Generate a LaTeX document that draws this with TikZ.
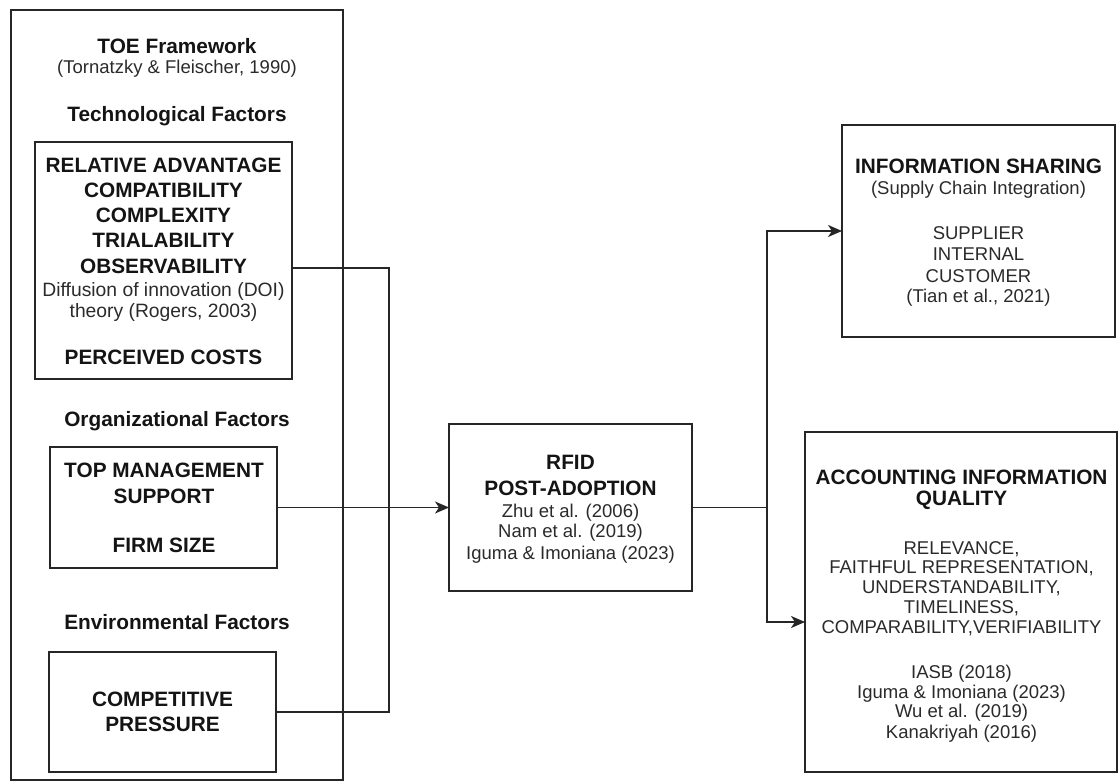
\documentclass[tikz,border=0pt]{standalone}
\usepackage{fontspec}
\setmainfont{Liberation Sans}
\usetikzlibrary{arrows.meta}
\definecolor{ink}{HTML}{141414}
\definecolor{soft}{HTML}{2A2A2A}
\definecolor{edge}{HTML}{262626}
\begin{document}
\begin{tikzpicture}[x=1pt,y=-1pt,
  box/.style={draw=edge, line width=1.7pt, rectangle, inner sep=0pt, outer sep=0pt},
  hd/.style={anchor=base, inner sep=0pt, text=ink, font=\fontsize{20.8}{25}\selectfont\bfseries},
  rg/.style={anchor=base, inner sep=0pt, text=soft, font=\fontsize{18.5}{22}\selectfont},
  rgl/.style={anchor=base, inner sep=0pt, text=soft, font=\fontsize{19.3}{23}\selectfont},
  link/.style={draw=edge, line width=1.7pt},
  arr/.style={link, -{Stealth[length=14pt,width=12pt,inset=4pt]}}]
\useasboundingbox (0,0) rectangle (1119,783);

% ---- boxes ----
\node[box, minimum width=332pt, minimum height=770pt] (toe)  at (177,395) {};
\node[box, minimum width=257pt, minimum height=237pt] (tech) at (163.5,260.5) {};
\node[box, minimum width=227pt, minimum height=121pt] (org)  at (163.5,507.5) {};
\node[box, minimum width=227pt, minimum height=120pt] (env)  at (162.5,712) {};
\node[box, minimum width=243pt, minimum height=167pt] (rfid) at (570.5,507.5) {};
\node[box, minimum width=273pt, minimum height=212pt] (info) at (978.5,231) {};
\node[box, minimum width=312pt, minimum height=340pt] (aiq)  at (961,602) {};

% ---- TOE framework column ----
\node[hd] (toe-t)  at (177,54)    {TOE Framework};
\node[rg] (toe-c)  at (177,74)    {(Tornatzky \& Fleischer, 1990)};
\node[hd] (tech-t) at (177,122)   {Technological Factors};

\node[hd] (tech-1) at (163.5,172.8) {RELATIVE ADVANTAGE};
\node[hd] (tech-2) at (163.5,197.6) {COMPATIBILITY};
\node[hd] (tech-3) at (163.5,222.6) {COMPLEXITY};
\node[hd] (tech-4) at (163.5,247.8) {TRIALABILITY};
\node[hd] (tech-5) at (163.5,273.8) {OBSERVABILITY};
\node[rgl] (tech-6) at (163.5,296.5) {Diffusion of innovation (DOI)};
\node[rgl] (tech-7) at (163.5,317.5) {theory (Rogers, 2003)};
\node[hd] (tech-8) at (163.5,365)   {PERCEIVED COSTS};

\node[hd] (org-t)  at (177,426.7)   {Organizational Factors};
\node[hd] (org-1)  at (164,477.3)   {TOP MANAGEMENT};
\node[hd] (org-2)  at (164,503.3)   {SUPPORT};
\node[hd] (org-3)  at (164,552.3)   {FIRM SIZE};

\node[hd] (env-t)  at (177,629.3)   {Environmental Factors};
\node[hd] (env-1)  at (162.5,706.3) {COMPETITIVE};
\node[hd] (env-2)  at (162.5,731.3) {PRESSURE};

% ---- RFID post-adoption ----
\node[hd] (rfid-1) at (570.5,469.3) {RFID};
\node[hd] (rfid-2) at (570.5,495.3) {POST-ADOPTION};
\node[rg] (rfid-3) at (570.5,517)   {Zhu et al. (2006)};
\node[rg] (rfid-4) at (570.5,537.5) {Nam et al. (2019)};
\node[rg] (rfid-5) at (570.5,559.7) {Iguma \& Imoniana (2023)};

% ---- information sharing ----
\node[hd] (info-1) at (978.5,173.3) {INFORMATION SHARING};
\node[rg] (info-2) at (978.5,194.7) {(Supply Chain Integration)};
\node[rg] (info-3) at (978.5,239.6) {SUPPLIER};
\node[rg] (info-4) at (978.5,260.4) {INTERNAL};
\node[rg] (info-5) at (978.5,282.4) {CUSTOMER};
\node[rg] (info-6) at (978.5,302.7) {(Tian et al., 2021)};

% ---- accounting information quality ----
\node[hd] (aiq-1)  at (961.5,484)   {ACCOUNTING INFORMATION};
\node[hd] (aiq-2)  at (961.5,505.7) {QUALITY};
\node[rg] (aiq-3)  at (961.5,554.3) {RELEVANCE,};
\node[rg] (aiq-4)  at (961.5,573.3) {FAITHFUL REPRESENTATION,};
\node[rg] (aiq-5)  at (961.5,593.3) {UNDERSTANDABILITY,};
\node[rg] (aiq-6)  at (961.5,613.3) {TIMELINESS,};
\node[rg] (aiq-7)  at (961.5,633.9) {COMPARABILITY,VERIFIABILITY};
\node[rg] (aiq-8)  at (961.5,678.1) {IASB (2018)};
\node[rg] (aiq-9)  at (961.5,698.1) {Iguma \& Imoniana (2023)};
\node[rg] (aiq-10) at (961.5,717.5) {Wu et al. (2019)};
\node[rg] (aiq-11) at (961.5,738.1) {Kanakriyah (2016)};

% ---- connectors ----
\coordinate (busT) at (389,268);
\coordinate (busB) at (389,712);
\coordinate (fork) at (767,507.5);

\draw[link] ([yshift=-7.5pt]tech.east) -- (busT) -- (busB) -- (env.east);
\draw[arr] (org.east) -- (rfid.west);
\draw[link] (rfid.east) -- (fork);
\draw[arr] (fork) |- (info.west);
\draw[arr] (fork) |- ([yshift=-20pt]aiq.west);
\end{tikzpicture}
\end{document}
